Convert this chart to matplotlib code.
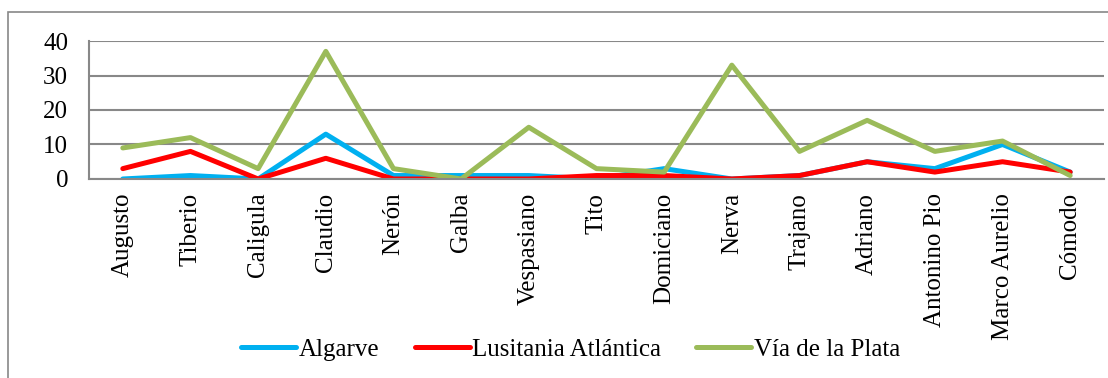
import matplotlib
matplotlib.use("Agg")
import matplotlib.pyplot as plt
from matplotlib.patches import Rectangle

EMPERADORES = ["Augusto", "Tiberio", "Caligula", "Claudio", "Nerón", "Galba",
               "Vespasiano", "Tito", "Domiciano", "Nerva", "Trajano", "Adriano",
               "Antonino Pio", "Marco Aurelio", "Cómodo"]
ALGARVE = [0, 1, 0, 13, 1, 1, 1, 0, 3, 0, 1, 5, 3, 10, 2]
LUSITANIA = [3, 8, 0, 6, 0, 0, 0, 1, 1, 0, 1, 5, 2, 5, 2]
VIA_PLATA = [9, 12, 3, 37, 3, 0, 15, 3, 2, 33, 8, 17, 8, 11, 1]

plt.rcParams["font.family"] = ["Liberation Serif", "DejaVu Serif"]

fig = plt.figure(figsize=(11.08, 3.78), dpi=100)
ax = fig.add_axes([0.0803, 0.5265, 0.9161, 0.365])

x = range(len(EMPERADORES))
ax.plot(x, ALGARVE, color="#00B0F0", lw=3.6, label="Algarve", solid_capstyle="round")
ax.plot(x, LUSITANIA, color="#FF0000", lw=3.6, label="Lusitania Atlántica", solid_capstyle="round")
ax.plot(x, VIA_PLATA, color="#9BBB59", lw=3.6, label="Vía de la Plata", solid_capstyle="round")

ax.set_xlim(-0.5, len(EMPERADORES) - 0.5)
ax.set_ylim(0, 40)
ax.set_yticks([0, 10, 20, 30, 40])
ax.yaxis.grid(True, color="#888888", lw=1.5)
ax.set_axisbelow(True)
ax.set_xticks(list(x))
ax.set_xticklabels(EMPERADORES, rotation=90, fontsize=18)
ax.tick_params(axis="y", length=0, pad=15, labelsize=18)
ax.tick_params(axis="x", length=0, pad=10)
for side in ["top", "right"]:
    ax.spines[side].set_visible(False)
ax.spines["left"].set_color("#888888")
ax.spines["left"].set_linewidth(1.5)
ax.spines["bottom"].set_color("#888888")
ax.spines["bottom"].set_linewidth(1.5)

leg = fig.legend(loc="center", bbox_to_anchor=(0.515, 0.075), ncol=3, frameon=False,
                 fontsize=18, handlelength=2.2, handletextpad=0.1, columnspacing=1.4)

# outer chart frame
fig.patches.append(Rectangle((8 / 1108, -0.1), 1.2, 1.1 - 12 / 378,
                             transform=fig.transFigure, fill=False,
                             edgecolor="#888888", lw=1.2))

fig.savefig("out.png", dpi=100)
